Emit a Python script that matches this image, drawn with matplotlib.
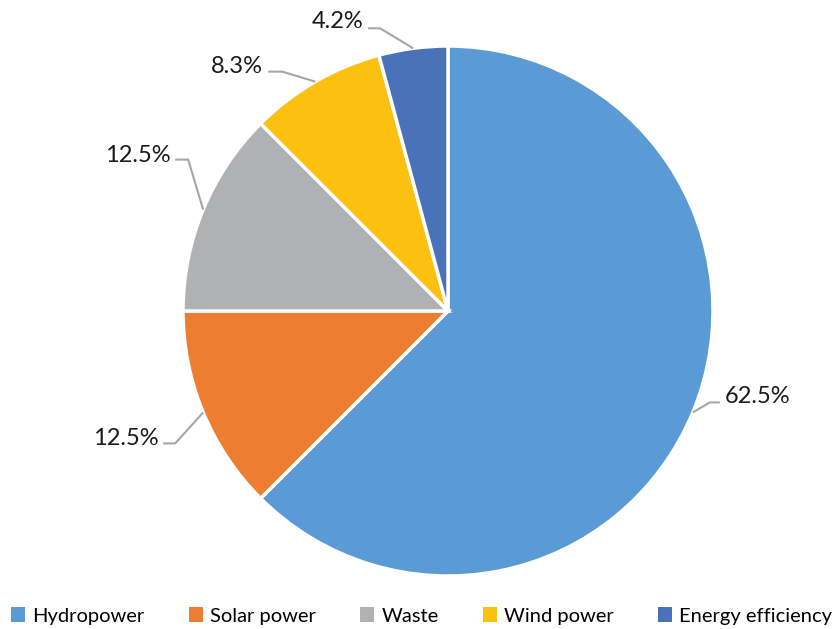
import numpy as np
import matplotlib
matplotlib.use("Agg")
import matplotlib.pyplot as plt
from matplotlib.patches import Patch

categories = ["Hydropower", "Solar power", "Waste", "Wind power", "Energy efficiency"]
shares = [62.5, 12.5, 12.5, 8.3, 4.2]
labels = ["62.5%", "12.5%", "12.5%", "8.3%", "4.2%"]
colors = ["#5B9BD5", "#ED7D31", "#AFB1B3", "#FCC010", "#4A72B9"]

FONT = ["Lato", "DejaVu Sans"]

W, H = 835, 629
fig = plt.figure(figsize=(W / 100, H / 100), dpi=100)
cx, cy, R = 448, 311, 265
ax = fig.add_axes([(cx - R) / W, (H - cy - R) / H, 2 * R / W, 2 * R / H])

wedges, _ = ax.pie(shares, colors=colors, startangle=90, counterclock=False,
                   radius=1.0, wedgeprops=dict(edgecolor="white", linewidth=2.5))
ax.set_xlim(-1, 1)
ax.set_ylim(-1, 1)
ax.set_aspect("equal")
ax.axis("off")

# label layout: elbow and end offsets (pixels) relative to wedge mid edge
layout = [
    # (elbow_dx, elbow_dy, end_dx, ha, text_dy)  dy positive = up
    (17, 10, 10, "left", 6),
    (-28, -31, -12, "right", 5),
    (-15, 50, -13, "right", 4),
    (-33, 10, -14, "right", 5),
    (-33, 20, -12, "right", 7),
]
for w, lab, (edx, edy, ex, ha, tdy) in zip(wedges, labels, layout):
    ang = np.deg2rad((w.theta1 + w.theta2) / 2)
    x0, y0 = np.cos(ang), np.sin(ang)
    x1, y1 = x0 + edx / R, y0 + edy / R
    x2 = x1 + ex / R
    ax.plot([x0, x1, x2], [y0, y1, y1], color="#A6A6A6", lw=1.5,
            clip_on=False, solid_capstyle="butt")
    tx = x2 + (5 / R if ha == "left" else -5 / R)
    ax.text(tx, y1 + tdy / R, lab, ha=ha, va="center", fontsize=17,
            family=FONT, color="#1a1a1a")

handles = [Patch(facecolor=c, edgecolor="none") for c in colors]
fig.legend(handles, categories, loc="center", bbox_to_anchor=(0.505, 1 - 616 / H),
           ncol=5, frameon=False, handlelength=0.7, handleheight=0.7,
           handletextpad=0.35, columnspacing=2.2,
           prop=dict(family=FONT, size=14.5))

fig.savefig("out.png", dpi=100, facecolor="white")
